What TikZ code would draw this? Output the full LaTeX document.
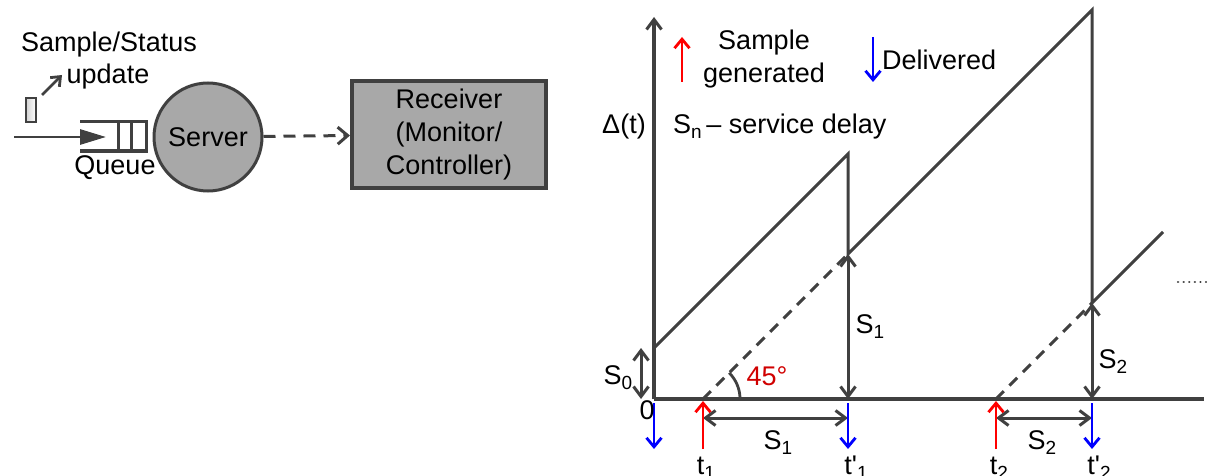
\documentclass[tikz,border=0pt]{standalone}
\usepackage{fontspec}
\setmainfont{Liberation Sans}
\usetikzlibrary{arrows.meta}
\definecolor{ln}{HTML}{404040}
\definecolor{fillg}{HTML}{A8A8A8}
\definecolor{redt}{HTML}{D00000}
\newcommand{\sbx}[1]{\raisebox{-0.35ex}{\fontsize{19}{19}\selectfont #1}}
\begin{document}
\begin{tikzpicture}[x=1pt,y=-1pt,
  font=\fontsize{27}{33}\selectfont,
  txt/.style={inner sep=0pt, text=black},
  barb/.style={-{Straight Barb[length=10pt,width=15pt,line width=3pt]}},
  dbl/.style={{Straight Barb[length=10pt,width=15pt,line width=3pt]}-{Straight Barb[length=10pt,width=15pt,line width=3pt]}},
  axisline/.style={draw=ln, line width=3.2pt},
  sawline/.style={draw=ln, line width=3pt},
  dashline/.style={draw=ln, line width=3pt, dash pattern=on 11pt off 8pt},
  redarr/.style={draw=red, line width=2.8pt, -{Straight Barb[length=9pt,width=15pt,line width=2.8pt]}},
  bluearr/.style={draw=blue, line width=2.8pt, -{Straight Barb[length=9pt,width=15pt,line width=2.8pt]}}
]
\useasboundingbox (0,0) rectangle (1207,476);

% ---------------- left: queueing system ----------------
\node[txt] (ss) at (109,45) {Sample/Status};
\node[txt] (upd) at (108,77) {update};
\node[draw=ln, line width=2.6pt, minimum width=10pt, minimum height=24pt, inner sep=0pt,
      left color=gray!35, right color=white] (pkt) at (31,110) {};
\coordinate (pa) at (42,95);
\coordinate (pb) at (62,75);
\draw[ln, line width=2.8pt, -{Straight Barb[length=8pt,width=13pt,line width=2.8pt]}] (pa) -- (pb);

% queue
\draw[ln, line width=3pt] (80,122) -- (146,122) -- (146,151) -- (80,151);
\draw[ln, line width=3pt] (118,122) -- (118,151);
\draw[ln, line width=3pt] (131,122) -- (131,151);
\coordinate (inA) at (14,137);
\coordinate (inB) at (106,137);
\draw[ln, line width=2.8pt, -{Triangle[length=26pt,width=15pt]}] (inA) -- (inB);
\node[txt] (queue) at (115,168) {Queue};

% server
\node[circle, draw=ln, fill=fillg, line width=3pt, minimum size=108pt, inner sep=0pt, text=black] (srv) at (208,137) {Server};

% receiver
\node[rectangle, draw=ln, line width=4pt, fill=fillg, minimum width=194pt, minimum height=107pt,
      align=center, inner sep=0pt, text=black] (rcv) at (449,134.5) {Receiver\\(Monitor/\\Controller)};
\draw[ln, line width=3pt, dash pattern=on 12pt off 8pt, -{Straight Barb[length=10pt,width=17pt,line width=3pt]}] (srv) -- (rcv);

% ---------------- right: age plot ----------------
\coordinate (O) at (654,399);
\coordinate (Ytop) at (654,17);
\coordinate (Xend) at (1204,399);
\draw[axisline, barb] (O) -- (Ytop);
\draw[axisline] (O) -- (Xend);

\coordinate (A0) at (654,348);
\coordinate (P1) at (848,154);
\coordinate (B1) at (848,254);
\coordinate (P2) at (1092,10);
\coordinate (B2) at (1092,303);
\coordinate (E) at (1163,232);
\draw[sawline, line join=miter] (A0) -- (P1) -- (B1) -- (P2) -- (B2) -- (E);

\coordinate (T1) at (703,399);
\coordinate (T1p) at (848,399);
\coordinate (T2) at (996,399);
\coordinate (T2p) at (1092,399);
\draw[dashline] (T1) -- (B1);
\draw[dashline] (T2) -- (B2);

% vertical double arrows
\coordinate (s0a) at (641,348);
\coordinate (s0b) at (641,399);
\draw[ln, line width=3pt, dbl] (s0a) -- (s0b);
\draw[ln, line width=3pt, dbl] (T1p) -- (B1);
\draw[ln, line width=3pt, dbl] (T2p) -- (B2);

% horizontal double arrows
\coordinate (h1a) at (703,418);
\coordinate (h1b) at (848,418);
\coordinate (h2a) at (996,418);
\coordinate (h2b) at (1092,418);
\draw[ln, line width=3pt, dbl] (h1a) -- (h1b);
\draw[ln, line width=3pt, dbl] (h2a) -- (h2b);

% 45 degree arc
\draw[ln, line width=2.8pt] plot[domain=0:45, samples=20] ({703+37*cos(\x)},{399-37*sin(\x)});
\node[txt, text=redt] (deg) at (767,376) {45°};

% generated / delivered markers
\coordinate (r1a) at (703,449);
\coordinate (r1b) at (703,401);
\coordinate (r2a) at (996,449);
\coordinate (r2b) at (996,401);
\draw[redarr] (r1a) -- (r1b);
\draw[redarr] (r2a) -- (r2b);
\coordinate (b0a) at (654,403);
\coordinate (b0b) at (654,449);
\coordinate (b1a) at (848,403);
\coordinate (b1b) at (848,449);
\coordinate (b2a) at (1092,403);
\coordinate (b2b) at (1092,449);
\draw[bluearr] (b0a) -- (b0b);
\draw[bluearr] (b1a) -- (b1b);
\draw[bluearr] (b2a) -- (b2b);

% legend
\coordinate (lra) at (682,82);
\coordinate (lrb) at (682,37);
\draw[redarr] (lra) -- (lrb);
\node[txt, align=center] (lgen) at (764,59) {Sample\\generated};
\coordinate (lba) at (873,37);
\coordinate (lbb) at (873,82);
\draw[bluearr] (lba) -- (lbb);
\node[txt, anchor=west] (ldel) at (882,60) {Delivered};

% labels
\node[txt] (delta) at (624,127) {Δ(t)};
\node[txt, anchor=west] (sn) at (673,127) {S\sbx{n}\,– service delay};
\node[txt] (s0l) at (618,378) {S\sbx{0}};
\node[txt] (zero) at (647,410) {0};
\node[txt] (s1v) at (870,327) {S\sbx{1}};
\node[txt] (s2v) at (1113,362) {S\sbx{2}};
\node[txt] (s1h) at (778,443) {S\sbx{1}};
\node[txt] (s2h) at (1042,443) {S\sbx{2}};
\node[txt] (t1l) at (706,468) {t\sbx{1}};
\node[txt] (t1pl) at (856,468) {t\textquotesingle\sbx{1}};
\node[txt] (t2l) at (999,468) {t\sbx{2}};
\node[txt] (t2pl) at (1099,468) {t\textquotesingle\sbx{2}};

\coordinate (dA) at (1178,282);
\coordinate (dB) at (1207,282);
\draw[ln, line width=2.4pt, line cap=round, dash pattern=on 0.1pt off 5.5pt] (dA) -- (dB);
\end{tikzpicture}
\end{document}
